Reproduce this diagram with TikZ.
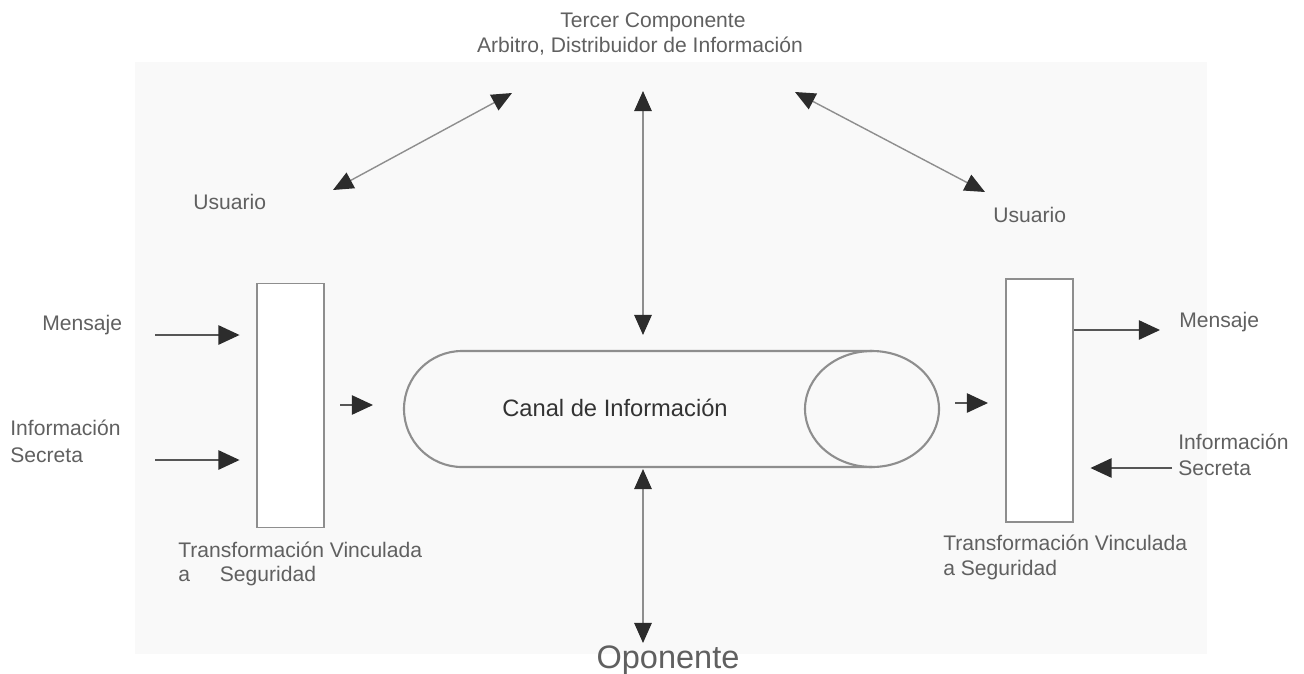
\documentclass[tikz,border=0pt]{standalone}
\usepackage{fontspec}
\setmainfont{Liberation Sans}
\usetikzlibrary{arrows.meta}
\definecolor{bgpanel}{HTML}{F9F9F9}
\definecolor{labelgray}{HTML}{606060}
\definecolor{linegray}{HTML}{8E8E8E}
\definecolor{tipdark}{HTML}{2C2C2C}
\tikzset{
  lbl/.style={text=labelgray, font=\fontsize{12}{14}\selectfont, inner sep=0pt},
  secbox/.style={draw=linegray, line width=1pt, fill=white, inner sep=0pt},
  tube/.style={draw=linegray, line width=1.2pt},
  long arrow/.style={draw=linegray, line width=0.8pt, {Triangle[length=11.5pt, width=10pt, color=tipdark]}-{Triangle[length=11.5pt, width=10pt, color=tipdark]}},
  short arrow/.style={draw=tipdark!80, line width=0.8pt, -{Triangle[length=12pt, width=11pt, color=tipdark]}}
}
\begin{document}
\begin{tikzpicture}[x=0.02cm, y=-0.02cm]
\useasboundingbox (0,0) rectangle (1304,673);
\fill[bgpanel] (135,62) rectangle (1207,654);

% titulo
\node[lbl, anchor=base] (tercer) at (653,27) {Tercer Componente};
\node[lbl, anchor=base] (arbitro) at (640,52) {Arbitro, Distribuidor de Información};

% bloques de transformacion
\node[secbox, minimum width=38pt, minimum height=139pt] (boxL) at (290.5,405.5) {};
\node[secbox, minimum width=38pt, minimum height=138pt] (boxR) at (1039.5,400.5) {};

% canal
\draw[tube] (872,351) -- (462,351) arc[start angle=-90, end angle=-270, x radius=58, y radius=58] -- (872,467);
\draw[tube] (872,409) ellipse[x radius=67, y radius=58];
\node[lbl, text=black!80, font=\fontsize{13.5}{15}\selectfont] (canal) at (615,408) {Canal de Información};

% etiquetas
\node[lbl, anchor=base west] (usrL) at (193,209) {Usuario};
\node[lbl, anchor=base west] (usrR) at (993,222) {Usuario};
\node[lbl, anchor=base west] (msgL) at (42,330) {Mensaje};
\node[lbl, anchor=base west] (infL) at (10,435) {Información};
\node[lbl, anchor=base west] (secL) at (10,462) {Secreta};
\node[lbl, anchor=base west] (msgR) at (1179,327) {Mensaje};
\node[lbl, anchor=base west] (infR) at (1178,449) {Información};
\node[lbl, anchor=base west] (secR) at (1178,475) {Secreta};
\node[lbl, anchor=base west] (trfL) at (178,557) {Transformación Vinculada};
\node[lbl, anchor=base west] (segL) at (178,581) {a\hspace{17pt}Seguridad};
\node[lbl, anchor=base west] (trfR) at (943,550) {Transformación Vinculada};
\node[lbl, anchor=base west] (segR) at (943,575) {a Seguridad};
\node[lbl, anchor=base, font=\fontsize{18.5}{20}\selectfont] (oponente) at (668,668) {Oponente};

% puntos libres de las flechas
\coordinate (arbL) at (512,93);
\coordinate (arbC) at (643,91);
\coordinate (arbR) at (795,92);
\coordinate (usrLtip) at (333,190);
\coordinate (usrRtip) at (985,192);
\coordinate (chanTop) at (643,335);
\coordinate (chanBot) at (643,469);
\coordinate (opTip) at (643,643);
\coordinate (msgLin) at (155,335);
\coordinate (secLin) at (155,460);
\coordinate (midL) at (340,405);
\coordinate (midR) at (955,403);
\coordinate (msgRout) at (1160,330);
\coordinate (secRin) at (1172,468);

% flechas
\draw[long arrow] (usrLtip) -- (arbL);
\draw[long arrow] (arbC) -- (chanTop);
\draw[long arrow] (arbR) -- (usrRtip);
\draw[long arrow] (chanBot) -- (opTip);
\draw[short arrow, shorten >=9.5pt] (msgLin) -- (msgLin -| boxL.west);
\draw[short arrow, shorten >=9.5pt] (secLin) -- (secLin -| boxL.west);
\draw[short arrow] (midL) -- ++(33,0);
\draw[short arrow] (midR) -- ++(33,0);
\draw[short arrow] (msgRout -| boxR.east) -- (msgRout);
\draw[short arrow, shorten >=9.5pt] (secRin) -- (secRin -| boxR.east);
\end{tikzpicture}
\end{document}
